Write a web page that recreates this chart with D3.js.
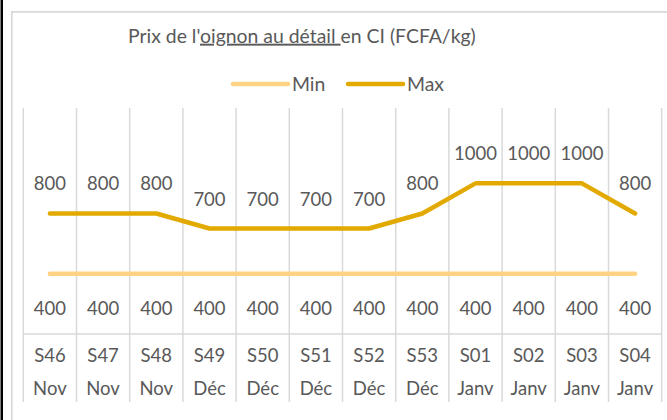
<!DOCTYPE html>
<html>
<head>
<meta charset="utf-8">
<script src="https://cdn.jsdelivr.net/npm/d3@7"></script>
<style>
  body { margin: 0; background: #fff; }
  svg { display: block; }
  text { font-family: Lato, "Open Sans", sans-serif; fill: #595959; }
</style>
</head>
<body>
<div id="chart"></div>
<script>
// weekly retail onion price, Côte d'Ivoire
var weeks = ["S46","S47","S48","S49","S50","S51","S52","S53","S01","S02","S03","S04"];
var months = ["Nov","Nov","Nov","Déc","Déc","Déc","Déc","Déc","Janv","Janv","Janv","Janv"];
var minPrices = [400,400,400,400,400,400,400,400,400,400,400,400];
var maxPrices = [800,800,800,700,700,700,700,800,1000,1000,1000,800];
var seriesNames = ["Min","Max"];
var colors = ["#FFD383","#E2AA00"];

var width = 667, height = 420;
var fs = 18.5, titleFs = 19.4;

var svg = d3.select("#chart").append("svg")
    .attr("width", width).attr("height", height);

// page edge + chart frame
svg.append("rect").attr("x", 0.5).attr("y", 0).attr("width", 2.5).attr("height", height).attr("fill", "#000");
svg.append("path").attr("d", "M11.8," + height + "V11.8H" + width)
    .attr("fill", "none").attr("stroke", "#d9d9d9").attr("stroke-width", 1.7);

var x = d3.scaleBand().domain(d3.range(weeks.length)).range([23.3, 661.7]);
var y = d3.scaleLinear().domain([0, 1500]).range([334, 108]);

// vertical grid / category dividers
var bounds = d3.range(weeks.length + 1).map(function(i) { return i < weeks.length ? x(i) : x.range()[1]; });
svg.append("g").selectAll("line").data(bounds).enter().append("line")
    .attr("x1", function(d) { return d; }).attr("x2", function(d) { return d; })
    .attr("y1", 108).attr("y2", 402)
    .attr("stroke", "#d9d9d9").attr("stroke-width", 1.5);

// horizontal axis
svg.append("line").attr("x1", x.range()[0]).attr("x2", x.range()[1])
    .attr("y1", y(0)).attr("y2", y(0))
    .attr("stroke", "#d9d9d9").attr("stroke-width", 1.5);

// axis labels
var cx = function(i) { return x(i) + x.bandwidth() / 2; };
var axisG = svg.append("g").attr("text-anchor", "middle").style("font-size", fs + "px");
axisG.selectAll(".wk").data(weeks).enter().append("text")
    .attr("x", function(d, i) { return cx(i); }).attr("y", 362).text(function(d) { return d; });
axisG.selectAll(".mo").data(months).enter().append("text")
    .attr("x", function(d, i) { return cx(i); }).attr("y", 395).text(function(d) { return d; });

var line = d3.line().x(function(d, i) { return cx(i); }).y(function(d) { return y(d); });

[minPrices, maxPrices].forEach(function(vals, k) {
  svg.append("path").datum(vals).attr("d", line)
      .attr("fill", "none").attr("stroke", colors[k]).attr("stroke-width", 4.5)
      .attr("stroke-linecap", "round").attr("stroke-linejoin", "round");
});

// data labels
var lab = svg.append("g").attr("text-anchor", "middle").style("font-size", fs + "px");
lab.selectAll(".mn").data(minPrices).enter().append("text")
    .attr("x", function(d, i) { return cx(i); })
    .attr("y", function(d) { return y(d) + 41; })
    .text(function(d) { return d; });
lab.selectAll(".mx").data(maxPrices).enter().append("text")
    .attr("x", function(d, i) { return cx(i); })
    .attr("y", function(d) { return y(d) - 23; })
    .text(function(d) { return d; });

// title
var title = svg.append("text").attr("x", 128).attr("y", 42.7).style("font-size", titleFs + "px");
title.append("tspan").text("Prix de l'");
title.append("tspan").style("text-decoration", "underline").text("oignon au détail ");
title.append("tspan").text("en CI (FCFA/kg)");

// legend
var legX = [233, 348];
var leg = svg.append("g").selectAll("g").data(seriesNames).enter().append("g")
    .attr("transform", function(d, i) { return "translate(" + legX[i] + ",84)"; });
leg.append("line").attr("x1", 0).attr("x2", 55)
    .attr("stroke", function(d, i) { return colors[i]; })
    .attr("stroke-width", 4.5).attr("stroke-linecap", "round");
leg.append("text").attr("x", 59).attr("y", 6.8).style("font-size", titleFs + "px")
    .text(function(d) { return d; });
</script>
</body>
</html>
